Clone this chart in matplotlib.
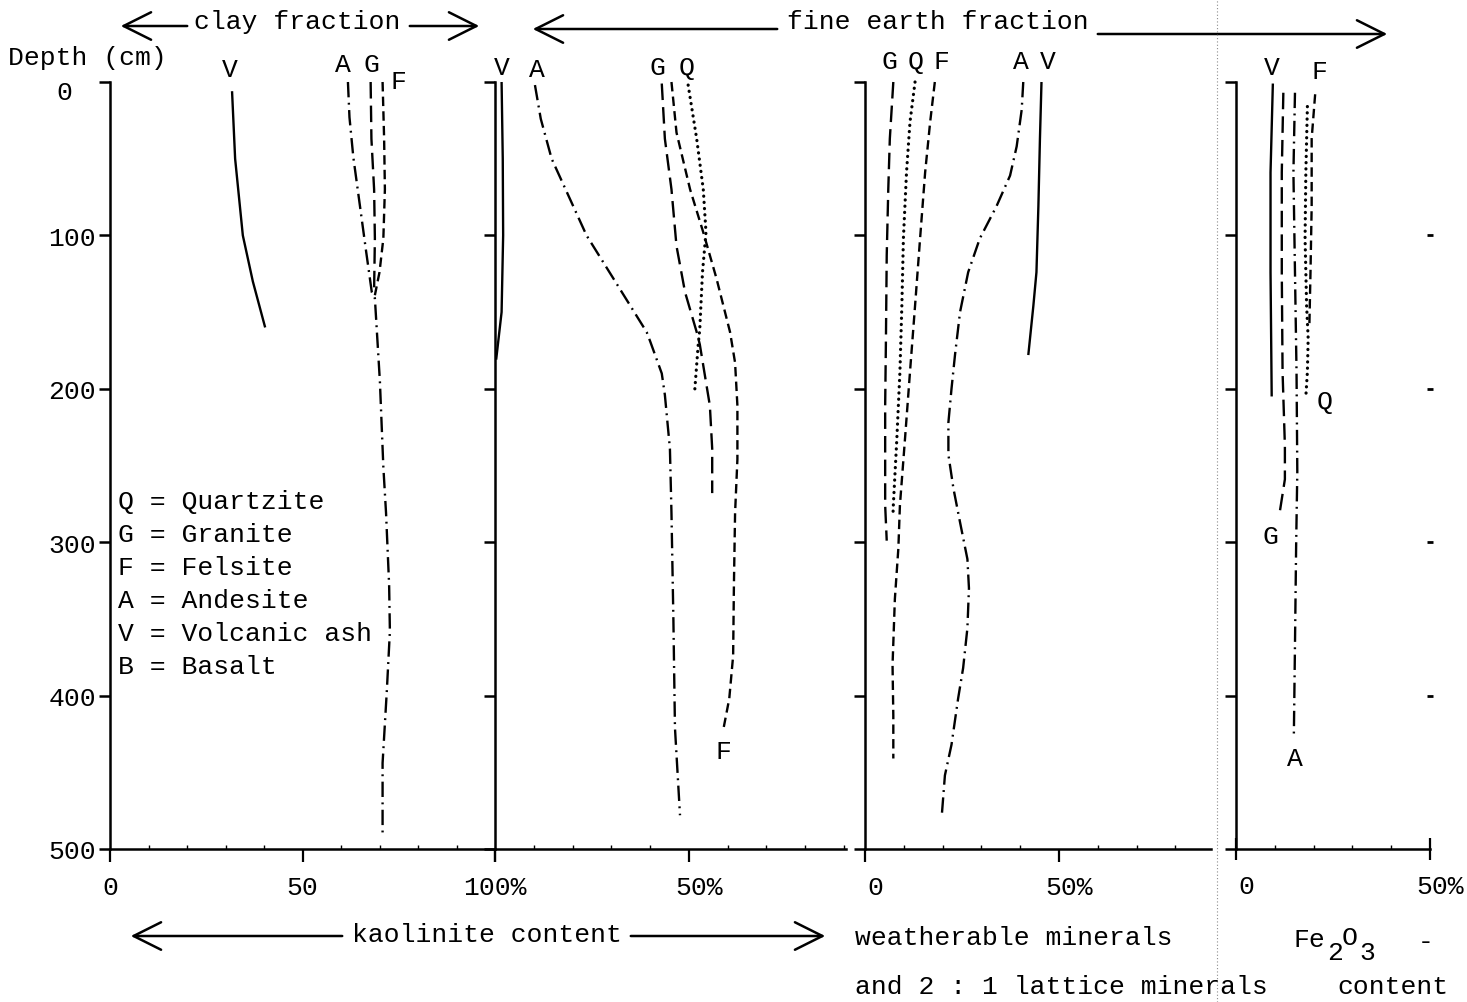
import matplotlib
matplotlib.use('Agg')
import matplotlib.pyplot as plt
from matplotlib.lines import Line2D
from matplotlib.patches import FancyArrowPatch
from matplotlib.ticker import MultipleLocator, FixedLocator
import matplotlib.transforms as mtransforms

FONT = ['Liberation Mono', 'DejaVu Sans Mono']
plt.rcParams['font.family'] = FONT

# ---------------- data ----------------
depth_ticks = [0, 100, 200, 300, 400, 500]
depth_labels = ['0', '100', '200', '300', '400', '500']

# Panel 1: kaolinite content, clay fraction (%)
clay_V_depth = [6, 50, 100, 130, 160]
clay_V_val = [31.7, 32.5, 34.5, 37.1, 40.3]
clay_A_depth = [0, 23, 49, 73, 110, 137, 141, 195, 251, 281, 328, 358, 397, 444, 490]
clay_A_val = [61.8, 62.2, 63.2, 64.5, 66.5, 68.0, 68.8, 70.1, 71.0, 71.7, 72.5, 72.7, 71.9, 70.8, 70.8]
clay_G_depth = [0, 37, 70, 102, 135]
clay_G_val = [67.7, 67.9, 68.6, 68.8, 68.6]
clay_F_depth = [0, 37, 70, 102, 124, 139]
clay_F_val = [70.8, 71.2, 71.4, 71.0, 70.0, 68.8]

# Panel 2: kaolinite content, fine earth fraction (%)
fine_V_depth = [0, 50, 100, 150, 181]
fine_V_val = [1.7, 2.0, 2.1, 1.7, 0.3]
fine_A_depth = [2, 24, 50, 100, 128, 163, 169, 190, 204, 239, 281, 351, 421, 478]
fine_A_val = [10.3, 11.8, 14.6, 23.6, 30.5, 39.1, 40.0, 43.0, 43.8, 45.1, 45.5, 46.0, 46.4, 47.7]
fine_G_depth = [1, 37, 70, 107, 137, 163, 171, 211, 239, 268]
fine_G_val = [43.0, 43.8, 45.5, 46.8, 49.0, 52.0, 52.8, 55.4, 56.0, 56.0]
fine_F_depth = [0, 33, 70, 98, 128, 163, 183, 211, 246, 281, 328, 374, 402, 423]
fine_F_val = [45.5, 46.8, 50.3, 53.7, 57.1, 60.6, 61.9, 62.5, 62.5, 61.9, 61.6, 61.4, 60.4, 58.8]
fine_Q_depth = [2, 37, 70, 98, 124, 161, 171, 201]
fine_Q_val = [49.8, 52.0, 53.7, 54.4, 53.5, 52.8, 52.4, 51.5]

# Panel 3: weatherable minerals and 2:1 lattice minerals (%)
weath_G_depth = [0, 37, 70, 113, 167, 211, 276, 299]
weath_G_val = [7.3, 6.4, 6.0, 5.6, 5.4, 5.2, 5.2, 5.6]
weath_Q_depth = [0, 26, 59, 102, 146, 189, 233, 276, 283]
weath_Q_val = [12.9, 11.6, 10.7, 9.9, 9.5, 9.0, 8.2, 7.3, 7.2]
weath_F_depth = [0, 26, 59, 102, 146, 189, 233, 276, 304, 337, 380, 413, 441]
weath_F_val = [18.0, 16.8, 15.5, 14.2, 12.9, 11.6, 10.3, 9.0, 8.6, 7.7, 7.1, 7.3, 7.3]
weath_A_depth = [0, 18, 42, 61, 81, 102, 124, 150, 178, 200, 222, 243, 265, 287, 311, 330, 356, 382, 402, 432, 452, 478]
weath_A_val = [40.8, 40.4, 39.1, 37.4, 33.9, 29.6, 26.6, 24.5, 23.2, 22.3, 21.5, 21.5, 22.8, 24.5, 26.4, 26.8, 26.4, 25.3, 24.0, 22.3, 20.6, 19.8]
weath_V_depth = [0, 37, 81, 124, 146, 178]
weath_V_val = [45.5, 45.1, 44.7, 44.2, 43.4, 42.1]

# Panel 4: Fe2O3 content (%)
fe_V_depth = [1, 59, 124, 205]
fe_V_val = [9.5, 8.9, 8.9, 9.2]
fe_G_depth = [7, 59, 124, 189, 237, 259, 280]
fe_G_val = [12.2, 11.8, 11.8, 12.0, 12.6, 12.6, 11.3]
fe_A_depth = [7, 59, 124, 189, 254, 302, 367, 428]
fe_A_val = [15.2, 14.8, 15.2, 15.6, 15.8, 15.5, 15.2, 14.9]
fe_Q_depth = [16, 59, 102, 146, 167, 189, 205]
fe_Q_val = [18.4, 18.0, 17.8, 18.2, 18.6, 18.4, 18.0]
fe_F_depth = [8, 37, 81, 124, 160]
fe_F_val = [20.4, 19.5, 19.5, 19.2, 18.9]

legend_lines = ['Q = Quartzite', 'G = Granite', 'F = Felsite',
                'A = Andesite', 'V = Volcanic ash', 'B = Basalt']

# ---------------- styles ----------------
LW = 1.7
STYLE = {
    'V': (0, ()),
    'A': (0, (6.5, 2.3, 0.8, 2.3)),
    'G': (0, (7.0, 3.0)),
    'F': (0, (4.0, 2.2)),
    'Q': (0, (0.05, 1.9)),
}
FS = 19

W, H = 1467, 1003
fig = plt.figure(figsize=(W / 100, H / 100), dpi=100)
fig.patch.set_facecolor('white')


def fx(px):
    return px / W


def fy(py):
    return 1 - py / H


Y0, Y1 = 83, 850
panel_geo = [(110, 495, 100), (495, 846, 90.5), (865, 1211, 89.2), (1236, 1430, 50)]
axes = []
for (l, r, xmax) in panel_geo:
    ax = fig.add_axes([fx(l), fy(Y1), fx(r) - fx(l), (Y1 - Y0) / H])
    ax.set_xlim(0, xmax)
    ax.set_ylim(500, 0)
    ax.patch.set_visible(False)
    for s in ['top', 'right']:
        ax.spines[s].set_visible(False)
    for s in ['left', 'bottom']:
        ax.spines[s].set_linewidth(1.8)
    ax.yaxis.set_major_locator(FixedLocator(depth_ticks))
    ax.tick_params(axis='y', which='major', direction='out', length=8, width=1.8,
                   labelsize=FS, pad=2)
    ax.xaxis.set_minor_locator(MultipleLocator(10))
    ax.tick_params(axis='x', which='major', direction='out', length=9, width=1.6,
                   labelsize=FS, pad=10)
    ax.tick_params(axis='x', which='minor', direction='in', length=3, width=1.0)
    axes.append(ax)

ax1, ax2, ax3, ax4 = axes
ax1.set_yticklabels(depth_labels)
for ax in (ax2, ax3, ax4):
    ax.set_yticklabels([])

ax1.set_xticks([0, 50, 100])
ax1.set_xticklabels(['0', '50', '100%'])
ax2.set_xticks([0, 50])
ax2.set_xticklabels(['', '50%'])
ax3.set_xticks([0, 50])
ax3.set_xticklabels(['0', '50%'])
ax4.set_xticks([0, 50])
ax4.set_xticklabels(['0', '50%'])
ax4.tick_params(axis='x', which='major', direction='inout', length=16)

shift = mtransforms.ScaledTranslation(10 / 100, 0, fig.dpi_scale_trans)
for ax in (ax2, ax3, ax4):
    for lab in ax.get_xticklabels():
        lab.set_transform(lab.get_transform() + shift)

# the typed "0" depth label sits further left and a little lower
zero_shift = mtransforms.ScaledTranslation(-24 / 100, -7 / 100, fig.dpi_scale_trans)
ylabs = ax1.get_yticklabels()
ylabs[0].set_transform(ylabs[0].get_transform() + zero_shift)

# small marks on right side of Fe2O3 panel
ax4r = ax4.twinx()
ax4r.set_ylim(500, 0)
ax4r.set_yticks([100, 200, 300, 400])
ax4r.set_yticklabels([])
for s in ax4r.spines.values():
    s.set_visible(False)
ax4r.tick_params(axis='y', direction='inout', length=5, width=2)

# ---------------- curves ----------------
series = [
    (ax1, 'V', clay_V_val, clay_V_depth), (ax1, 'A', clay_A_val, clay_A_depth),
    (ax1, 'G', clay_G_val, clay_G_depth), (ax1, 'F', clay_F_val, clay_F_depth),
    (ax2, 'V', fine_V_val, fine_V_depth), (ax2, 'A', fine_A_val, fine_A_depth),
    (ax2, 'G', fine_G_val, fine_G_depth), (ax2, 'F', fine_F_val, fine_F_depth),
    (ax2, 'Q', fine_Q_val, fine_Q_depth),
    (ax3, 'G', weath_G_val, weath_G_depth), (ax3, 'Q', weath_Q_val, weath_Q_depth),
    (ax3, 'F', weath_F_val, weath_F_depth), (ax3, 'A', weath_A_val, weath_A_depth),
    (ax3, 'V', weath_V_val, weath_V_depth),
    (ax4, 'V', fe_V_val, fe_V_depth), (ax4, 'G', fe_G_val, fe_G_depth),
    (ax4, 'A', fe_A_val, fe_A_depth), (ax4, 'Q', fe_Q_val, fe_Q_depth),
    (ax4, 'F', fe_F_val, fe_F_depth),
]
for ax, key, vals, deps in series:
    if key == 'Q':
        ax.plot(vals, deps, color='black', lw=2.3, linestyle=STYLE[key],
                dash_capstyle='round', clip_on=False)
    else:
        ax.plot(vals, deps, color='black', lw=LW, linestyle=STYLE[key],
                solid_capstyle='butt', dash_capstyle='butt', clip_on=False)

# curve letters
letters = [
    (ax1, 'V', 31.2, -8.5), (ax1, 'A', 60.5, -11.7), (ax1, 'G', 67.8, -11.7), (ax1, 'F', 74.8, -0.7),
    (ax2, 'V', 1.8, -9.8), (ax2, 'A', 10.8, -8.5), (ax2, 'G', 41.8, -9.8), (ax2, 'Q', 49.5, -9.8),
    (ax2, 'F', 58.8, 436),
    (ax3, 'G', 6.4, -13.7), (ax3, 'Q', 13.1, -13.7), (ax3, 'F', 19.6, -13.7), (ax3, 'A', 40.2, -13.7),
    (ax3, 'V', 47.2, -13.7),
    (ax4, 'V', 9.3, -9.8), (ax4, 'F', 21.6, -7.2), (ax4, 'Q', 22.9, 208), (ax4, 'G', 9.0, 296),
    (ax4, 'A', 15.2, 441),
]
for ax, t, xv, yv in letters:
    ax.text(xv, yv, t, ha='center', va='center', fontsize=FS, clip_on=False)

# legend text in first panel
for i, line in enumerate(legend_lines):
    fig.text(fx(118), fy(502 + i * 33), line, ha='left', va='center', fontsize=FS)

# headings
fig.text(fx(8), fy(58), 'Depth (cm)', ha='left', va='center', fontsize=FS)
fig.text(fx(297), fy(22), 'clay fraction', ha='center', va='center', fontsize=FS)
fig.text(fx(938), fy(22), 'fine earth fraction', ha='center', va='center', fontsize=FS)
fig.text(fx(487), fy(935), 'kaolinite content', ha='center', va='center', fontsize=FS)
fig.text(fx(855), fy(938), 'weatherable minerals', ha='left', va='center', fontsize=FS)
fig.text(fx(855), fy(987), 'and 2 : 1 lattice minerals', ha='left', va='center', fontsize=FS)
# typewriter-style Fe2O3 with lowered subscripts
fig.text(fx(1293), fy(940), 'Fe', ha='left', va='center', fontsize=FS)
fig.text(fx(1327), fy(953), '2', ha='left', va='center', fontsize=FS)
fig.text(fx(1342), fy(938), 'O', ha='left', va='center', fontsize=FS)
fig.text(fx(1359), fy(953), '3', ha='left', va='center', fontsize=FS)
fig.text(fx(1426), fy(942), '-', ha='center', va='center', fontsize=FS)
fig.text(fx(1337), fy(987), 'content', ha='left', va='center', fontsize=FS)


def arrow(x0, y0, x1, y1):
    a = FancyArrowPatch((fx(x0), fy(y0)), (fx(x1), fy(y1)), transform=fig.transFigure,
                        arrowstyle='->,head_length=0.9,head_width=0.45',
                        mutation_scale=22, lw=1.8, color='black')
    fig.add_artist(a)


arrow(190, 27, 118, 27)
arrow(407, 27, 482, 27)
arrow(780, 30, 530, 30)
arrow(1095, 35, 1390, 35)
arrow(345, 937, 128, 937)
arrow(628, 937, 828, 937)

# faint fold line of the scan
fig.add_artist(Line2D([fx(1217), fx(1217)], [0, 1], transform=fig.transFigure,
                      color='0.55', lw=0.8, linestyle=(0, (1, 2))))

fig.savefig('out.png', dpi=100, facecolor='white')
